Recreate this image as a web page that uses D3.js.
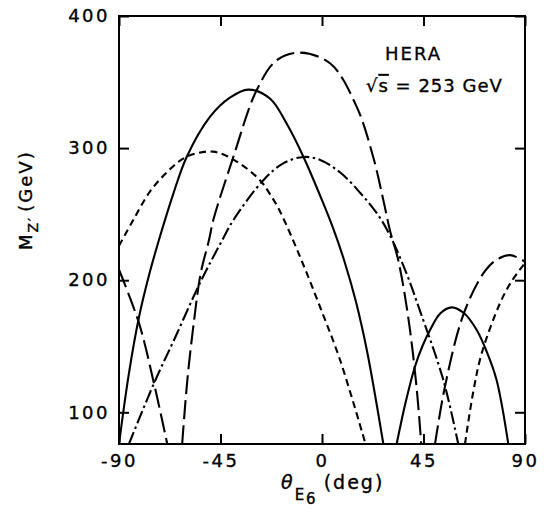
<!DOCTYPE html>
<html><head><meta charset="utf-8">
<script src="https://cdn.jsdelivr.net/npm/d3@7"></script>
<style>
body{margin:0;background:#fff}
text{font-family:"DejaVu Sans",sans-serif;fill:#000;stroke:#000;stroke-width:0.35px}
</style>
</head><body>
<svg id="c" width="547" height="513"></svg>
<script>
// ---- data (theta in deg, M_Z' in GeV) ----
const xTicks = [-90, -45, 0, 45, 90];
const yTicks = [100, 200, 300, 400];

const solid1 = [[-90,76],[-85.6,129.5],[-81.1,172.3],[-76.5,205],[-72.3,230.4],[-66,265],[-60,293.3],[-49.7,323.6],[-41,338],[-32.7,344.3],[-23.1,337.5],[-15.5,318],[-8.2,293.3],[0,260.6],[5,239],[10,214],[15,184],[20,146],[27.2,76]];
const solid2 = [[33.1,76],[37,107],[41.2,134.5],[44.5,150],[47.9,162.3],[52.5,175],[57.5,179.4],[63,175],[68.6,162.3],[73,146],[77.4,124.4],[82.6,76]];

const shortDash1 = [[-90,226],[-83.7,245.5],[-76.3,267],[-68,283],[-60,293.5],[-48.2,297.3],[-38,290],[-27.5,275.7],[-23,265],[-18.6,252],[-9.8,218],[-0.9,179.9],[8,139.6],[19.3,76]];
const shortDash2 = [[63.4,76],[67,115],[70.8,144.6],[78.9,182.5],[84,199],[90,213]];

const longDash1 = [[-90,208],[-81.1,167.3],[-74.5,121.9],[-68.6,76]];
const longDash2 = [[-62,76],[-59.7,124.4],[-56.7,169.8],[-53.8,205.1],[-50.1,230.4],[-48.2,245.5],[-39.3,293.3],[-29,343.8],[-20.1,366.5],[-9.8,372.3],[3.7,364],[15.4,331.2],[22.7,293.3],[27.2,260.6],[30.1,237.9],[33.8,215.2],[38.2,172.3],[41.9,119.4],[44,76]];
const longDash3 = [[50.1,76],[54.5,119.4],[62.6,173.6],[71.5,205.1],[77,215],[83.4,219],[90,214]];

const dashDot1 = [[-85.6,76],[-74.5,121.9],[-65,157],[-53.8,199],[-44.2,230.4],[-39.3,245.5],[-26,275.7],[-17.2,288.4],[-8.2,293.3],[-0.8,291],[8.1,281.5],[17,266],[25,249],[30.1,234],[37.5,205],[43.4,177],[53.8,124.4],[60.4,76]];

// ---- layout ----
const L = 119, R = 525, T = 16, B = 444;
const svg = d3.select("#c");
const x = d3.scaleLinear().domain([-90, 90]).range([L, R]);
const y = d3.scaleLinear().domain([76, 400]).range([B, T]);

svg.append("defs").append("clipPath").attr("id", "clip")
  .append("rect").attr("x", L).attr("y", T).attr("width", R - L).attr("height", B - T);

const line = d3.line().x(d => x(d[0])).y(d => y(d[1])).curve(d3.curveCatmullRom.alpha(0.5));

const series = [
  {data: solid1, dash: null},
  {data: solid2, dash: null},
  {data: shortDash1, dash: "7,4.5"},
  {data: shortDash2, dash: "7,4.5"},
  {data: longDash1, dash: "19,6"},
  {data: longDash2, dash: "19,6"},
  {data: longDash3, dash: "19,6"},
  {data: dashDot1, dash: "13,3.5,2.5,3.5"}
];
const g = svg.append("g").attr("clip-path", "url(#clip)");
series.forEach(s => {
  g.append("path").attr("d", line(s.data))
    .attr("fill", "none").attr("stroke", "#000").attr("stroke-width", 2.1)
    .attr("stroke-dasharray", s.dash);
});

// axes
function styleAxis(sel) {
  sel.select(".domain").remove();
  sel.selectAll(".tick line").attr("stroke", "#000").attr("stroke-width", 2);
  sel.selectAll("text").style("font-size", "18px").style("letter-spacing", "2.5px").attr("fill", "#000");
}
svg.append("g").attr("transform", `translate(0,${B})`)
  .call(d3.axisBottom(x).tickValues(xTicks).tickSizeInner(-10).tickSizeOuter(0).tickPadding(10).tickFormat(d => String(d)))
  .call(styleAxis);
svg.append("g").attr("transform", `translate(0,${T})`)
  .call(d3.axisTop(x).tickValues(xTicks).tickSizeInner(-10).tickSizeOuter(0).tickFormat(""))
  .call(styleAxis);
svg.append("g").attr("transform", `translate(${L},0)`)
  .call(d3.axisLeft(y).tickValues(yTicks).tickSizeInner(-10).tickSizeOuter(0).tickPadding(9).tickFormat(d => String(d)))
  .call(styleAxis);
svg.append("g").attr("transform", `translate(${R},0)`)
  .call(d3.axisRight(y).tickValues(yTicks).tickSizeInner(-10).tickSizeOuter(0).tickFormat(""))
  .call(styleAxis);

svg.append("rect").attr("x", L).attr("y", T).attr("width", R - L).attr("height", B - T)
  .attr("fill", "none").attr("stroke", "#000").attr("stroke-width", 2);

// annotation
svg.append("text").attr("x", 385).attr("y", 60).style("font-size", "18px").style("letter-spacing", "2px").text("HERA");
const t2 = svg.append("text").attr("x", 366).attr("y", 92).style("font-size", "18px").style("letter-spacing", "1px");
t2.append("tspan").text("√");
t2.append("tspan").style("text-decoration", "overline").text("s");
t2.append("tspan").text(" = 253 GeV");

// x label
const xl = svg.append("text").attr("x", 281).attr("y", 489).style("font-size", "19px").style("letter-spacing", "2px");
xl.append("tspan").style("font-style", "italic").text("θ");
xl.append("tspan").attr("dy", 11).style("font-size", "15px").text("E");
xl.append("tspan").attr("dy", 4).style("font-size", "15px").text("6");
xl.append("tspan").attr("dy", -15).attr("dx", 6).text("(deg)");

// y label
const yl = svg.append("text").attr("transform", "translate(32,250) rotate(-90)").style("font-size", "18px").style("letter-spacing", "2px");
yl.append("tspan").text("M");
yl.append("tspan").attr("dy", 6).style("font-size", "14px").text("Z′");
yl.append("tspan").attr("dy", -6).attr("dx", 4).text("(GeV)");
</script>
</body></html>
